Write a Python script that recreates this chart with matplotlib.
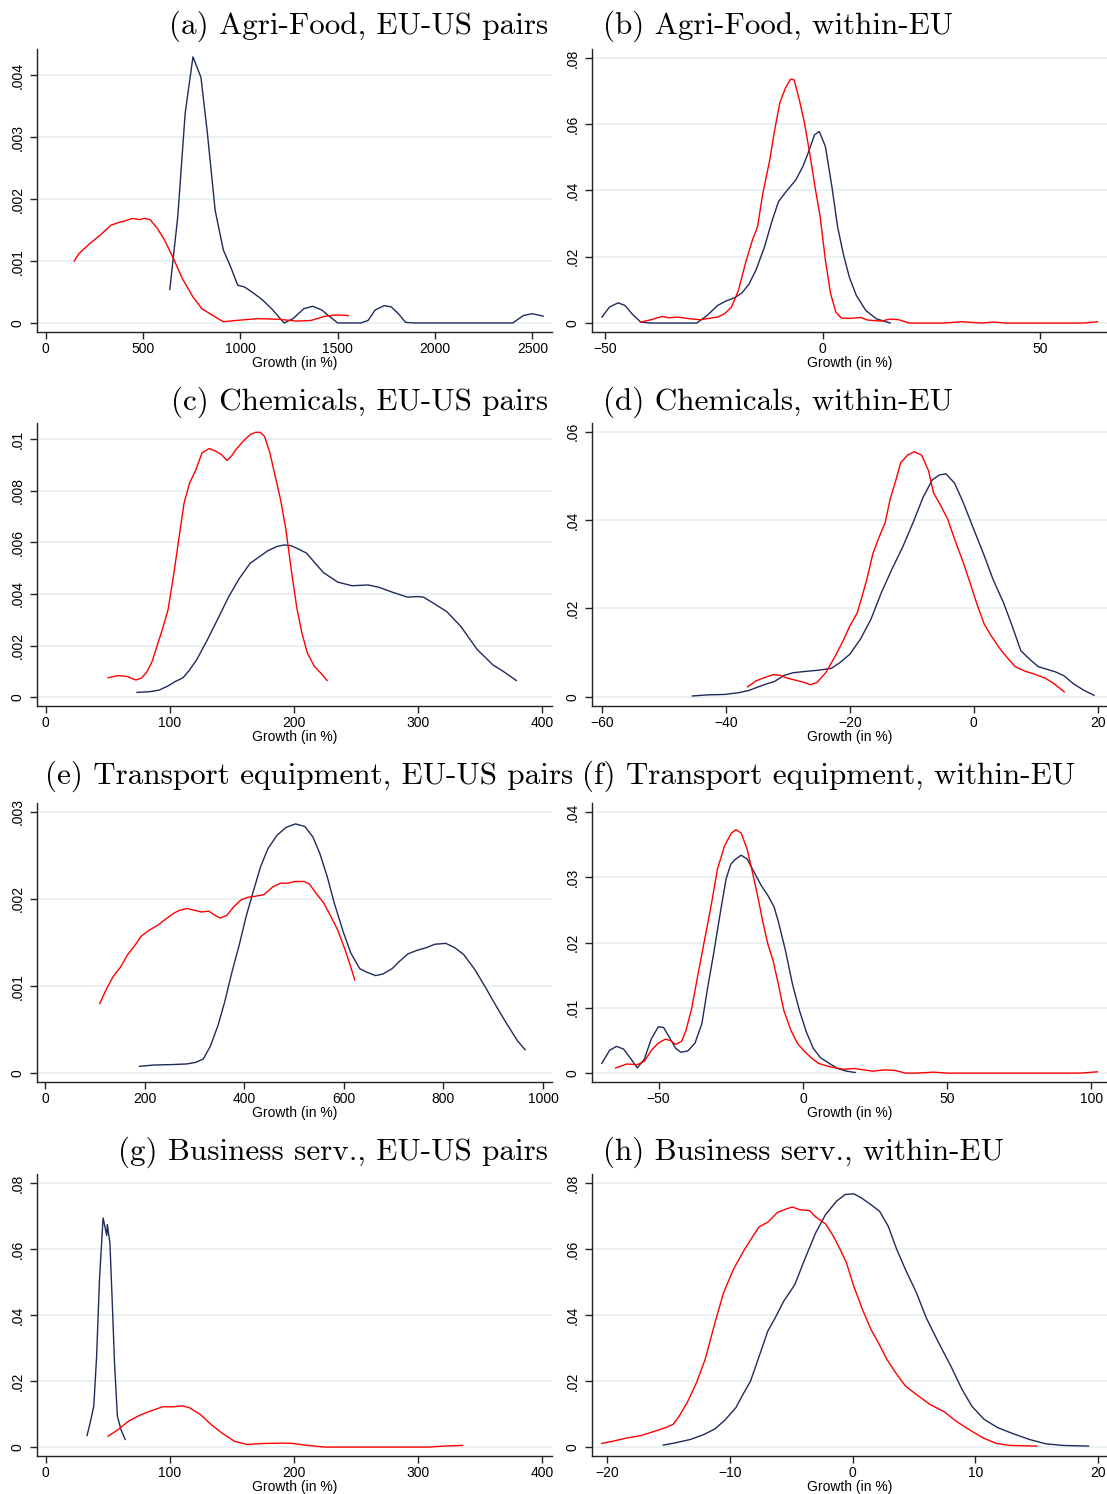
import numpy as np
import matplotlib
matplotlib.use("Agg")
import matplotlib.pyplot as plt
from matplotlib.ticker import FuncFormatter

NAVY = "#1f2b5a"
RED = "#ff0000"
GRID = "#e6eff1"

# ---- (a) Agri-Food, EU-US pairs
a_navy_x = [638, 679, 717, 757, 798, 831, 871, 913, 950, 987, 1023, 1069, 1115, 1161, 1225, 1271, 1326, 1372, 1418,
            1500, 1619, 1656, 1693, 1739, 1775, 1812, 1849, 1894, 2399, 2454, 2500, 2555]
a_navy_y = [0.00054, 0.00172, 0.00339, 0.00430, 0.00397, 0.00307, 0.00182, 0.00118, 0.00091, 0.00061, 0.00058,
            0.00048, 0.00037, 0.00023, 0.0, 0.00007, 0.00023, 0.00027, 0.00021, 0.0, 0.0, 0.00004, 0.00021, 0.00028,
            0.00026, 0.00015, 0.00001, 0.0, 0.0, 0.00012, 0.00015, 0.00011]
a_red_x = [147, 171, 226, 281, 336, 372, 409, 446, 482, 510, 537, 574, 611, 657, 702, 757, 803, 849, 913, 977, 1088,
           1198, 1289, 1363, 1436, 1500, 1555]
a_red_y = [0.00100, 0.00112, 0.00128, 0.00142, 0.00158, 0.00162, 0.00165, 0.00169, 0.00167, 0.00169, 0.00167,
           0.00153, 0.00134, 0.00104, 0.00072, 0.00042, 0.00023, 0.00014, 0.00002, 0.00004, 0.00007, 0.00006,
           0.00003, 0.00004, 0.00011, 0.00013, 0.00012]

# ---- (b) Agri-Food, within-EU
b_navy_x = [-50.8, -49.1, -47.1, -45.5, -43.9, -41.9, -39.5, -29.0, -26.6, -24.2, -22.2, -20.2, -18.6, -17.0, -15.4,
            -13.4, -11.8, -10.2, -8.6, -6.2, -4.6, -3.4, -1.9, -0.8, 0.6, 2.1, 3.4, 4.7, 6.1, 7.7, 9.9, 12.3, 15.5]
b_navy_y = [0.0018, 0.0048, 0.0061, 0.0053, 0.0028, 0.0003, 0.0, 0.0, 0.0023, 0.0053, 0.0067, 0.0077, 0.0091,
            0.0117, 0.0159, 0.0230, 0.0303, 0.0366, 0.0394, 0.0432, 0.0472, 0.0512, 0.0568, 0.0578, 0.0533, 0.0412,
            0.0291, 0.0210, 0.0139, 0.0084, 0.0038, 0.0013, 0.0]
b_red_x = [-41.9, -39.5, -37.0, -35.4, -33.4, -30.6, -28.2, -25.8, -24.2, -22.6, -21.0, -19.4, -17.8, -16.2, -15.0,
           -13.8, -12.2, -11.2, -9.9, -8.6, -7.4, -6.6, -5.4, -4.2, -3.0, -1.8, -0.6, 0.6, 1.8, 3.0, 4.3, 6.3, 8.7,
           10.3, 13.5, 15.5, 17.5, 19.9, 27.9, 31.9, 34.3, 36.7, 39.1, 42.3, 60.0, 63.2]
b_red_y = [0.0003, 0.0010, 0.0020, 0.0016, 0.0018, 0.0013, 0.0010, 0.0015, 0.0018, 0.0028, 0.0048, 0.0099, 0.0180,
           0.0250, 0.0291, 0.0391, 0.0492, 0.0573, 0.0664, 0.0709, 0.0736, 0.0734, 0.0674, 0.0603, 0.0512, 0.0412,
           0.0321, 0.0190, 0.0089, 0.0033, 0.0015, 0.0014, 0.0017, 0.0009, 0.0006, 0.0012, 0.0010, 0.0, 0.0, 0.0004,
           0.0002, 0.0, 0.0003, 0.0, 0.0, 0.0004]

# ---- (c) Chemicals, EU-US pairs
c_navy_x = [73.6, 84.2, 91.4, 98.6, 104.4, 110.7, 115.9, 121.6, 130.2, 138.9, 147.5, 156.1, 164.7, 179.1, 186.3,
            192.1, 197.8, 203.6, 210.2, 216.5, 223.7, 235.2, 246.7, 259.6, 268.3, 279.8, 291.3, 299.9, 304.2, 311.4,
            322.9, 334.4, 347.3, 360.3, 368.9, 379.0]
c_navy_y = [0.00019, 0.00022, 0.00028, 0.00044, 0.00061, 0.00076, 0.00106, 0.00145, 0.00222, 0.00306, 0.00390,
            0.00461, 0.00519, 0.00568, 0.00584, 0.00590, 0.00587, 0.00574, 0.00558, 0.00522, 0.00483, 0.00446,
            0.00432, 0.00435, 0.00426, 0.00406, 0.00388, 0.00390, 0.00388, 0.00367, 0.00332, 0.00274, 0.00186,
            0.00125, 0.00099, 0.00065]
c_red_x = [50.3, 58.4, 65.6, 72.7, 77.1, 81.4, 85.7, 90.0, 94.3, 98.6, 102.9, 107.2, 111.5, 115.9, 121.0, 125.9,
           131.7, 137.4, 141.8, 146.1, 149.8, 153.2, 159.0, 164.7, 169.1, 172.8, 176.3, 180.6, 184.9, 189.2, 193.5,
           197.8, 202.1, 206.4, 210.8, 216.5, 222.3, 226.6]
c_red_y = [0.00076, 0.00084, 0.00081, 0.00067, 0.00074, 0.00097, 0.00138, 0.00203, 0.00267, 0.00339, 0.00468,
           0.00610, 0.00752, 0.00829, 0.00881, 0.00946, 0.00963, 0.00952, 0.00939, 0.00917, 0.00935, 0.00959,
           0.00991, 0.01017, 0.01026, 0.01026, 0.01010, 0.00946, 0.00855, 0.00765, 0.00649, 0.00494, 0.00351,
           0.00248, 0.00171, 0.00119, 0.00090, 0.00065]

# ---- (d) Chemicals, within-EU
d_navy_x = [-45.4, -43.0, -40.2, -37.9, -36.3, -34.6, -33.4, -32.2, -30.6, -29.2, -27.3, -25.0, -23.0, -21.6, -20.0,
            -18.3, -16.6, -14.9, -13.2, -11.5, -9.8, -8.2, -6.7, -5.6, -4.5, -3.1, -1.7, 0.0, 1.7, 3.1, 4.8, 6.2,
            7.6, 9.0, 10.4, 11.8, 13.2, 14.6, 16.0, 17.7, 19.4]
d_navy_y = [0.00015, 0.0004, 0.0005, 0.0009, 0.0014, 0.0023, 0.0029, 0.0034, 0.0048, 0.0054, 0.0057, 0.0060, 0.0064,
            0.0077, 0.0096, 0.0130, 0.0175, 0.0236, 0.0289, 0.0338, 0.0394, 0.0451, 0.0491, 0.0502, 0.0505, 0.0484,
            0.0440, 0.0379, 0.0319, 0.0266, 0.0213, 0.0160, 0.0104, 0.0085, 0.0068, 0.0062, 0.0056, 0.0047, 0.0030,
            0.0015, 0.0003]
d_red_x = [-36.5, -35.1, -33.4, -32.3, -31.2, -30.1, -28.4, -27.3, -26.4, -25.3, -23.9, -22.5, -21.1, -20.0, -18.8,
           -18.0, -17.1, -16.3, -15.2, -14.3, -13.5, -12.6, -11.8, -10.7, -9.6, -8.4, -7.3, -6.5, -5.3, -4.2, -3.1,
           -1.7, -0.6, 0.6, 1.7, 2.8, 4.2, 5.6, 6.7, 8.2, 9.8, 11.5, 12.9, 14.6]
d_red_y = [0.0022, 0.0036, 0.0045, 0.0050, 0.0048, 0.0042, 0.0036, 0.0032, 0.0027, 0.0032, 0.0054, 0.0088, 0.0126,
           0.0160, 0.0190, 0.0228, 0.0274, 0.0323, 0.0364, 0.0394, 0.0447, 0.0489, 0.0530, 0.0547, 0.0555, 0.0547,
           0.0512, 0.0462, 0.0432, 0.0402, 0.0357, 0.0304, 0.0258, 0.0206, 0.0164, 0.0138, 0.0109, 0.0085, 0.0068,
           0.0058, 0.0051, 0.0042, 0.0030, 0.0011]

# ---- (e) Transport equipment, EU-US pairs
e_navy_x = [190, 220, 256, 285, 303, 318, 332, 347, 361, 375, 390, 404, 419, 433, 448, 466, 484, 503, 522, 538, 552,
            567, 581, 599, 614, 632, 646, 664, 679, 697, 711, 729, 747, 765, 783, 805, 823, 841, 863, 884, 906, 928,
            949, 964]
e_navy_y = [0.00008, 0.000095, 0.0001, 0.000107, 0.000126, 0.000164, 0.00031, 0.00054, 0.00082, 0.00115, 0.00147,
            0.00180, 0.00210, 0.00237, 0.00258, 0.00273, 0.00282, 0.00286, 0.00283, 0.00271, 0.00252, 0.00225,
            0.00195, 0.00162, 0.00138, 0.00120, 0.00116, 0.00112, 0.00114, 0.00120, 0.00128, 0.00137, 0.00141,
            0.00144, 0.00148, 0.00149, 0.00144, 0.00136, 0.00119, 0.00099, 0.00077, 0.00056, 0.00037, 0.00027]
e_red_x = [110, 123, 137, 152, 166, 181, 193, 209, 227, 245, 260, 271, 285, 300, 314, 329, 342, 352, 365, 379, 394,
           408, 422, 440, 458, 473, 487, 502, 520, 531, 545, 560, 574, 588, 603, 614, 622]
e_red_y = [0.00080, 0.00096, 0.00111, 0.00122, 0.00136, 0.00147, 0.00157, 0.00164, 0.00170, 0.00178, 0.00184,
           0.00187, 0.00189, 0.00187, 0.00185, 0.00186, 0.00181, 0.00178, 0.00181, 0.00191, 0.00199, 0.00202,
           0.00203, 0.00205, 0.00214, 0.00218, 0.00218, 0.00220, 0.00220, 0.00217, 0.00206, 0.00195, 0.00180,
           0.00164, 0.00141, 0.00122, 0.00107]

# ---- (f) Transport equipment, within-EU
f_navy_x = [-69.7, -67.0, -64.6, -62.2, -59.8, -57.4, -55.0, -52.5, -50.1, -48.3, -46.3, -44.1, -42.3, -39.9, -37.4,
            -35.0, -33.2, -30.8, -28.4, -26.6, -25.0, -23.6, -21.4, -19.3, -16.9, -14.5, -12.1, -10.0, -8.5, -6.0,
            -3.6, -1.2, 1.2, 3.6, 6.0, 9.1, 12.1, 15.1, 18.1]
f_navy_y = [0.0015, 0.0035, 0.0041, 0.0037, 0.0023, 0.0008, 0.0021, 0.0053, 0.0071, 0.0070, 0.0055, 0.0038, 0.0032,
            0.0034, 0.0046, 0.0076, 0.0126, 0.0187, 0.0252, 0.0298, 0.0320, 0.0327, 0.0334, 0.0328, 0.0308, 0.0288,
            0.0272, 0.0255, 0.0232, 0.0187, 0.0136, 0.0096, 0.0063, 0.0038, 0.0024, 0.0015, 0.0007, 0.0003, 0.0001]
f_red_x = [-64.9, -61.0, -57.4, -55.0, -52.5, -50.1, -47.7, -45.9, -44.1, -42.0, -40.5, -38.6, -36.8, -34.4, -32.0,
           -29.6, -27.2, -24.8, -23.2, -21.4, -19.3, -17.5, -15.7, -13.9, -12.1, -10.3, -8.5, -6.6, -4.2, -1.8, 0.6,
           3.0, 5.4, 9.1, 13.9, 18.1, 21.1, 24.2, 28.4, 32.0, 35.6, 39.3, 45.3, 50.1, 96.0, 102.1]
f_red_y = [0.0008, 0.0014, 0.0013, 0.0018, 0.0035, 0.0046, 0.0052, 0.0050, 0.0044, 0.0049, 0.0066, 0.0098, 0.0141,
           0.0197, 0.0252, 0.0313, 0.0348, 0.0368, 0.0373, 0.0368, 0.0343, 0.0308, 0.0272, 0.0232, 0.0197, 0.0172,
           0.0136, 0.0096, 0.0066, 0.0045, 0.0033, 0.0023, 0.0015, 0.0010, 0.0006, 0.0007, 0.0005, 0.0003, 0.0005,
           0.0004, 0.0, 0.0, 0.00015, 0.0, 0.0, 0.0002]

# ---- (g) Business serv., EU-US pairs
g_navy_x = [33.4, 35.9, 38.8, 41.1, 43.4, 46.3, 47.7, 49.2, 49.7, 51.8, 53.5, 55.5, 57.8, 60.7, 64.1]
g_navy_y = [0.0035, 0.0074, 0.0124, 0.0275, 0.0507, 0.0694, 0.0669, 0.0641, 0.0674, 0.0618, 0.0457, 0.0255, 0.0094,
            0.0053, 0.0023]
g_red_x = [50.3, 58.4, 67.0, 75.6, 84.2, 94.3, 102.9, 110.1, 115.9, 124.5, 133.1, 141.8, 151.8, 161.9, 176.3, 190.6,
           199.3, 210.8, 225.1, 251.0, 308.5, 320.0, 335.8]
g_red_y = [0.0033, 0.0053, 0.0079, 0.0096, 0.0109, 0.0122, 0.0122, 0.0125, 0.0119, 0.0099, 0.0069, 0.0043, 0.0018,
           0.0008, 0.0011, 0.0012, 0.0011, 0.0005, 0.0, 0.0, 0.0, 0.0003, 0.0005]

# ---- (h) Business serv., within-EU
h_navy_x = [-15.4, -14.4, -13.2, -12.1, -11.2, -10.4, -9.5, -9.0, -8.3, -7.6, -6.9, -6.3, -5.6, -4.7, -3.9, -3.0,
            -2.2, -1.3, -0.6, 0.1, 0.7, 1.5, 2.2, 2.9, 3.6, 4.3, 5.2, 6.0, 7.0, 8.0, 8.9, 9.7, 10.7, 11.8, 13.1, 14.4,
            15.7, 17.1, 19.2]
h_navy_y = [0.0006, 0.0013, 0.0023, 0.0038, 0.0055, 0.0081, 0.0119, 0.0154, 0.0200, 0.0275, 0.0351, 0.0391, 0.0442,
            0.0492, 0.0568, 0.0649, 0.0704, 0.0745, 0.0765, 0.0767, 0.0755, 0.0734, 0.0714, 0.0669, 0.0598, 0.0538,
            0.0467, 0.0391, 0.0316, 0.0245, 0.0175, 0.0124, 0.0084, 0.0059, 0.0040, 0.0023, 0.0010, 0.0005, 0.0003]
h_red_x = [-20.4, -19.5, -18.3, -17.2, -16.1, -15.2, -14.6, -14.1, -13.4, -12.7, -12.0, -11.2, -10.5, -9.7, -8.8,
           -8.1, -7.6, -6.9, -6.1, -5.4, -4.9, -4.3, -3.5, -3.0, -2.2, -1.6, -1.0, -0.5, 0.1, 0.8, 1.5, 2.1, 2.8,
           3.6, 4.3, 5.2, 6.3, 7.5, 8.4, 9.4, 10.6, 11.7, 12.8, 15.0]
h_red_y = [0.0011, 0.0018, 0.0028, 0.0035, 0.0048, 0.0059, 0.0069, 0.0094, 0.0139, 0.0195, 0.0265, 0.0376, 0.0467,
           0.0538, 0.0598, 0.0639, 0.0667, 0.0681, 0.0711, 0.0721, 0.0727, 0.0719, 0.0716, 0.0697, 0.0676, 0.0641,
           0.0598, 0.0558, 0.0487, 0.0417, 0.0356, 0.0316, 0.0265, 0.0220, 0.0185, 0.0159, 0.0129, 0.0106, 0.0079,
           0.0055, 0.0028, 0.0011, 0.0005, 0.0003]

titles = ["(a) Agri-Food, EU-US pairs", "(b) Agri-Food, within-EU",
          "(c) Chemicals, EU-US pairs", "(d) Chemicals, within-EU",
          "(e) Transport equipment, EU-US pairs", "(f) Transport equipment, within-EU",
          "(g) Business serv., EU-US pairs", "(h) Business serv., within-EU"]

xticks = [np.arange(0, 2501, 500), [-50, 0, 50],
          np.arange(0, 401, 100), np.arange(-60, 21, 20),
          np.arange(0, 1001, 200), [-50, 0, 50, 100],
          np.arange(0, 401, 100), np.arange(-20, 21, 10)]
yticks = [np.arange(0, 0.0041, 0.001), np.arange(0, 0.081, 0.02),
          np.arange(0, 0.0101, 0.002), np.arange(0, 0.061, 0.02),
          np.arange(0, 0.0031, 0.001), np.arange(0, 0.041, 0.01),
          np.arange(0, 0.081, 0.02), np.arange(0, 0.081, 0.02)]
xlims = [(-44, 2601), (-53.1, 65.4), (-6.9, 407.7), (-61.6, 21.5),
         (-15.9, 1018), (-73.1, 105.4), (-6.9, 407.7), (-21.2, 20.7)]
ylims = [(-0.000146, 0.004427), (-0.0027, 0.0827), (-0.000336, 0.01062), (-0.00212, 0.062),
         (-0.0001, 0.0031), (-0.00136, 0.0414), (-0.0027, 0.0827), (-0.0027, 0.0827)]

series = [(a_navy_x, a_navy_y, a_red_x, a_red_y), (b_navy_x, b_navy_y, b_red_x, b_red_y),
          (c_navy_x, c_navy_y, c_red_x, c_red_y), (d_navy_x, d_navy_y, d_red_x, d_red_y),
          (e_navy_x, e_navy_y, e_red_x, e_red_y), (f_navy_x, f_navy_y, f_red_x, f_red_y),
          (g_navy_x, g_navy_y, g_red_x, g_red_y), (h_navy_x, h_navy_y, h_red_x, h_red_y)]

W, H = 1107, 1494
fig = plt.figure(figsize=(W / 100, H / 100), dpi=100, facecolor="white")

# pixel boxes (left, right) per column, (top, bottom) per row
cols = [(37, 552), (592, 1107)]
rows = [(49, 332), (423, 706), (803, 1082), (1174, 1456)]
title_y = [26, 402, 776, 1152]
title_pos = [(548, "right"), (603, "left"), (548, "right"), (603, "left"),
             (45, "left"), (582, "left"), (548, "right"), (603, "left")]


def yfmt(v, pos):
    if abs(v) < 1e-12:
        return "0"
    s = "%g" % round(v, 6)
    return s.replace("0.", ".", 1)


def xfmt(v, pos):
    return ("%d" % round(v)).replace("-", "\u2212")


for i in range(8):
    r, c = divmod(i, 2)
    x0, x1 = cols[c]
    t, b = rows[r]
    ax = fig.add_axes([x0 / W, 1 - b / H, (x1 - x0) / W, (b - t) / H])
    nx, ny, rx, ry = series[i]
    ax.plot(nx, ny, color=NAVY, lw=1.0, zorder=3)
    ax.plot(rx, ry, color=RED, lw=1.0, zorder=3)
    ax.set_xlim(*xlims[i])
    ax.set_ylim(*ylims[i])
    ax.set_xticks(xticks[i])
    ax.set_yticks(yticks[i])
    ax.xaxis.set_major_formatter(FuncFormatter(xfmt))
    ax.yaxis.set_major_formatter(FuncFormatter(yfmt))
    for lab in ax.get_yticklabels():
        lab.set_rotation(90)
        lab.set_va("center")
    ax.grid(axis="y", color=GRID, lw=1.2, zorder=0)
    ax.spines["top"].set_visible(False)
    ax.spines["right"].set_visible(False)
    for s in ("left", "bottom"):
        ax.spines[s].set_linewidth(1.0)
        ax.spines[s].set_color("#222222")
    ax.tick_params(axis="both", length=5, width=1.0, color="#222222", labelsize=10, pad=2.5,
                   labelfontfamily="Liberation Sans")
    ax.tick_params(axis="y", pad=4)
    ax.set_xlabel("Growth (in %)", fontsize=10, family="Liberation Sans", labelpad=0)
    ax.set_axisbelow(True)

    tx, ha = title_pos[i]
    fig.text(tx / W, 1 - title_y[r] / H, titles[i], ha=ha, va="center",
             family="cmr10", fontsize=22.4, color="black")

fig.savefig("out.png", dpi=100, facecolor="white")
